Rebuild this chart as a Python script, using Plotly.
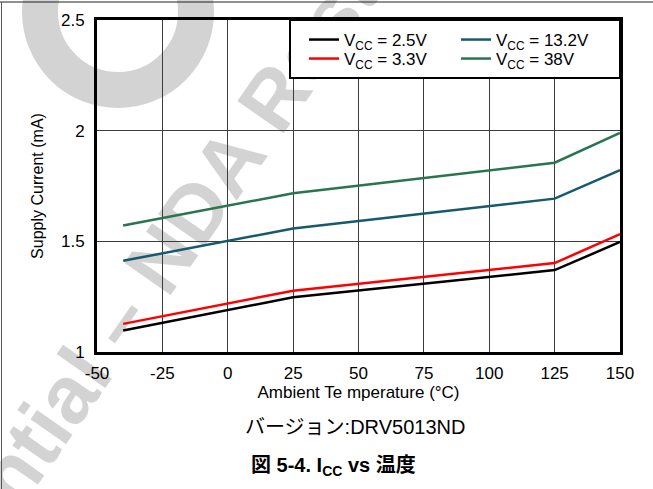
import plotly.graph_objects as go

# ---- data ----
temperature_c = [-40, 25, 125, 150]
icc_2v5 = [1.097, 1.247, 1.370, 1.497]
icc_3v3 = [1.127, 1.277, 1.402, 1.532]
icc_13v2 = [1.412, 1.558, 1.693, 1.822]
icc_38v = [1.572, 1.717, 1.855, 1.990]

series_names = ["V<sub>CC</sub> = 2.5V", "V<sub>CC</sub> = 3.3V",
                "V<sub>CC</sub> = 13.2V", "V<sub>CC</sub> = 38V"]
series_values = [icc_2v5, icc_3v3, icc_13v2, icc_38v]
series_colors = ["#000000", "#ff0000", "#17596f", "#2a7550"]
series_legend = ["legend", "legend2", "legend3", "legend4"]

x_ticks = [-50, -25, 0, 25, 50, 75, 100, 125, 150]
x_ticktext = ["-50", "-25", "0", "25", "50", "75", "100", "125", "150"]
y_ticks = [1, 1.5, 2, 2.5]
y_ticktext = ["1", "1.5", "2", "2.5"]

FONT = "Liberation Sans, Arial, sans-serif"
W, H = 653, 489
L, R, T, B = 97, 33, 20, 137
PW, PH = W - L - R, H - T - B


def px(xp):
    return (xp - L) / PW


def py(yp):
    return (H - B - yp) / PH


fig = go.Figure()
for name, vals, col, lg in zip(series_names, series_values, series_colors, series_legend):
    fig.add_trace(go.Scatter(x=temperature_c, y=vals, mode="lines", name=name,
                             line=dict(color=col, width=2.5), legend=lg))

wm_gray = "#d3d3d3"
shapes = [
    # watermark ring
    dict(type="circle", xref="paper", yref="paper", layer="below",
         x0=px(118 - 78), x1=px(118 + 78), y0=py(12 + 78), y1=py(12 - 78),
         line=dict(color=wm_gray, width=36)),
    # watermark text carrier
    dict(type="rect", xref="paper", yref="paper", layer="below",
         x0=px(163), x1=px(173), y0=py(240), y1=py(230),
         line=dict(width=0), fillcolor="rgba(0,0,0,0)",
         label=dict(text="Confidential – NDA Restrictions", textangle=-55,
                    textposition="middle center",
                    font=dict(family=FONT, size=82, weight="bold", color=wm_gray))),
    # legend box
    dict(type="rect", xref="paper", yref="paper", layer="above",
         x0=px(290), x1=1, y0=py(78), y1=1,
         line=dict(color="black", width=2), fillcolor="white"),
    # page borders
    dict(type="line", xref="paper", yref="paper", x0=px(0), x1=px(W), y0=py(2), y1=py(2),
         line=dict(color="#222222", width=1)),
    dict(type="line", xref="paper", yref="paper", x0=px(1.5), x1=px(1.5), y0=py(2), y1=py(H),
         line=dict(color="#555555", width=1)),
]

annotations = [
    dict(text="バージョン:DRV5013ND", xref="paper", yref="paper",
         x=px(355), y=py(427), showarrow=False, xanchor="center", yanchor="middle",
         font=dict(family="Liberation Sans, Noto Sans CJK JP", size=20, color="black")),
    dict(text="<b>図 5-4. I<sub>CC</sub> vs 温度</b>", xref="paper", yref="paper",
         x=px(333), y=py(467), showarrow=False, xanchor="center", yanchor="middle",
         font=dict(family="Liberation Sans, Noto Sans CJK JP", size=20, color="black")),
]


def legend_box(xp, yp):
    return dict(x=px(xp), y=py(yp), xanchor="left", yanchor="middle",
                bgcolor="rgba(0,0,0,0)", font=dict(size=17), tracegroupgap=0)


fig.update_layout(
    width=W, height=H,
    margin=dict(l=L, r=R, t=T, b=B),
    paper_bgcolor="white", plot_bgcolor="rgba(0,0,0,0)",
    font=dict(family=FONT, color="black", size=17),
    shapes=shapes, annotations=annotations,
    legend=legend_box(304, 40),
    legend2=legend_box(304, 59),
    legend3=legend_box(456, 40),
    legend4=legend_box(456, 59),
    showlegend=True,
)

fig.update_xaxes(range=[-50, 150], tickvals=x_ticks, ticktext=x_ticktext, showgrid=True,
                 gridcolor="#3c3c3c", gridwidth=1, showline=True, linecolor="black",
                 linewidth=3, mirror=True, zeroline=False, ticks="", tickfont=dict(size=17),
                 ticklabelstandoff=4,
                 title=dict(text="Ambient Te mperature (°C)", font=dict(size=17), standoff=1))
fig.update_yaxes(range=[1, 2.5], tickvals=y_ticks, ticktext=y_ticktext, showgrid=True,
                 gridcolor="#3c3c3c", gridwidth=1, showline=True, linecolor="black",
                 linewidth=3, mirror=True, zeroline=False, ticks="", tickfont=dict(size=17),
                 ticklabelstandoff=6,
                 title=dict(text="Supply Current (mA)", font=dict(size=16), standoff=14))

fig.write_html("out.html")
